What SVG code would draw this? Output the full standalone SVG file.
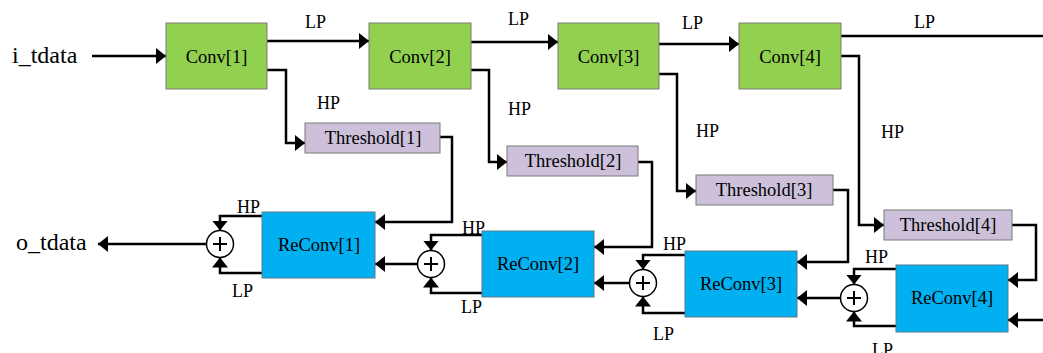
<svg xmlns="http://www.w3.org/2000/svg" width="1043" height="353" viewBox="0 0 1043 353">
<defs>
<marker id="ah" viewBox="0 0 10 16" refX="10" refY="8" markerWidth="10" markerHeight="16" markerUnits="userSpaceOnUse" orient="auto">
<path d="M0,0 L10,8 L0,16 z" fill="#000"/>
</marker>
</defs>
<style>
.conv{fill:#92D050;stroke:#7a7a7a;stroke-width:1}
.thr{fill:#CCC0DA;stroke:#7a7a7a;stroke-width:1}
.rec{fill:#00B0F0;stroke:#5a7a8a;stroke-width:1}
.add{fill:#fff;stroke:#000;stroke-width:1.5}
.plus{stroke:#000;stroke-width:2;fill:none}
.w{fill:none;stroke:#000;stroke-width:2.5}
.a{fill:none;stroke:#000;stroke-width:2.5;marker-end:url(#ah)}
text{font-family:"Liberation Serif","Times New Roman",serif;fill:#000}
.bt{font-size:18.5px;text-anchor:middle}
.lb{font-size:18px}
.io{font-size:24px}
</style>
<rect width="1043" height="353" fill="#fff"/>

<g id="connectors">
<polyline class="a" points="92,56 166,56"/>
<polyline class="a" points="267,41 369,41"/>
<polyline class="a" points="471,42 558,42"/>
<polyline class="a" points="659,44 739,44"/>
<polyline class="w" points="841,36 1043,36"/>
<polyline class="a" points="267,70 286,70 286,143 305,143"/>
<polyline class="a" points="471,70 489,70 489,162 507,162"/>
<polyline class="a" points="659,74 677,74 677,191 696,191"/>
<polyline class="a" points="841,56 859,56 859,225 884,225"/>
<polyline class="a" points="440,137 452,137 452,222 375,222"/>
<polyline class="a" points="638,162 652,162 652,247 594,247"/>
<polyline class="a" points="833,190 848,190 848,262 797,262"/>
<polyline class="a" points="1012,225 1036,225 1036,280 1008,280"/>
<polyline class="a" points="1043,320 1008,320"/>
<polyline class="a" points="262,216 220,216 220,230.5"/>
<polyline class="a" points="262,273 220,273 220,257.5"/>
<polyline class="a" points="206.5,244 98,244"/>
<polyline class="a" points="482,235 431,235 431,250.5"/>
<polyline class="a" points="482,293 431,293 431,277.5"/>
<polyline class="a" points="417.5,264 375,264"/>
<polyline class="a" points="685,255 643,255 643,269.5"/>
<polyline class="a" points="685,313 643,313 643,296.5"/>
<polyline class="a" points="629.5,283 594,283"/>
<polyline class="a" points="896,269 854,269 854,284.5"/>
<polyline class="a" points="896,326 854,326 854,311.5"/>
<polyline class="a" points="840.5,298 797,298"/>
</g>

<g id="labels">
<text class="io" x="12" y="63">i_tdata</text>
<text class="io" x="16" y="250">o_tdata</text>
<text class="lb" x="305" y="28">LP</text>
<text class="lb" x="508" y="25">LP</text>
<text class="lb" x="682" y="29">LP</text>
<text class="lb" x="914" y="28">LP</text>
<text class="lb" x="317" y="109">HP</text>
<text class="lb" x="508" y="115">HP</text>
<text class="lb" x="696" y="137">HP</text>
<text class="lb" x="881" y="138">HP</text>
<text class="lb" x="237" y="213">HP</text>
<text class="lb" x="232" y="297">LP</text>
<text class="lb" x="462" y="234">HP</text>
<text class="lb" x="461" y="313">LP</text>
<text class="lb" x="663" y="250">HP</text>
<text class="lb" x="653" y="340">LP</text>
<text class="lb" x="865" y="263">HP</text>
<text class="lb" x="872" y="356">LP</text>
</g>

<g id="conv1"><rect class="conv" x="166" y="23" width="101" height="66"/><text class="bt" x="216.5" y="63">Conv[1]</text></g>
<g id="conv2"><rect class="conv" x="369" y="23" width="102" height="66"/><text class="bt" x="420" y="63">Conv[2]</text></g>
<g id="conv3"><rect class="conv" x="558" y="23" width="101" height="66"/><text class="bt" x="608.5" y="63">Conv[3]</text></g>
<g id="conv4"><rect class="conv" x="739" y="23" width="102" height="66"/><text class="bt" x="790" y="63">Conv[4]</text></g>

<g id="threshold1"><rect class="thr" x="305" y="123" width="135" height="30"/><text class="bt" x="373" y="144">Threshold[1]</text></g>
<g id="threshold2"><rect class="thr" x="507" y="146" width="131" height="30"/><text class="bt" x="573" y="167">Threshold[2]</text></g>
<g id="threshold3"><rect class="thr" x="696" y="175" width="137" height="30"/><text class="bt" x="764" y="196">Threshold[3]</text></g>
<g id="threshold4"><rect class="thr" x="884" y="210" width="128" height="30"/><text class="bt" x="948" y="231">Threshold[4]</text></g>

<g id="reconv1"><rect class="rec" x="262" y="212" width="113" height="66"/><text class="bt" x="319" y="251">ReConv[1]</text></g>
<g id="reconv2"><rect class="rec" x="482" y="231" width="112" height="66"/><text class="bt" x="538" y="270">ReConv[2]</text></g>
<g id="reconv3"><rect class="rec" x="685" y="251" width="112" height="66"/><text class="bt" x="741" y="290">ReConv[3]</text></g>
<g id="reconv4"><rect class="rec" x="896" y="265" width="112" height="67"/><text class="bt" x="952" y="304">ReConv[4]</text></g>

<g id="adder1"><circle class="add" cx="220" cy="244" r="13.5"/><path class="plus" d="M213,244 H227 M220,237 V251"/></g>
<g id="adder2"><circle class="add" cx="431" cy="264" r="13.5"/><path class="plus" d="M424,264 H438 M431,257 V271"/></g>
<g id="adder3"><circle class="add" cx="643" cy="283" r="13.5"/><path class="plus" d="M636,283 H650 M643,276 V290"/></g>
<g id="adder4"><circle class="add" cx="854" cy="298" r="13.5"/><path class="plus" d="M847,298 H861 M854,291 V305"/></g>
</svg>
